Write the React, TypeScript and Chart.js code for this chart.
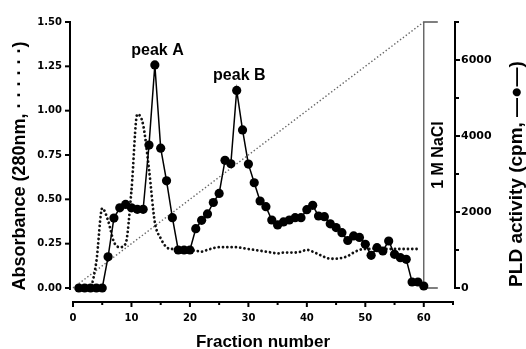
import React, { useEffect, useRef } from "react";
import { Chart, registerables } from "chart.js";

Chart.register(...registerables);

// ---- data ----
const fractions = [
  1, 2, 3, 4, 5, 6, 7, 8, 9, 10, 11, 12, 13, 14, 15, 16, 17, 18, 19, 20,
  21, 22, 23, 24, 25, 26, 27, 28, 29, 30, 31, 32, 33, 34, 35, 36, 37, 38, 39, 40,
  41, 42, 43, 44, 45, 46, 47, 48, 49, 50, 51, 52, 53, 54, 55, 56, 57, 58, 59, 60,
];
const pldActivity = [
  0, 0, 0, 0, 0, 820, 1840, 2110, 2200, 2110, 2070, 2070, 3760, 5870, 3680, 2820, 1850, 1000, 1000, 1000,
  1560, 1780, 1950, 2250, 2490, 3360, 3270, 5200, 4160, 3260, 2770, 2290, 2140, 1790, 1660, 1740, 1790, 1850, 1850, 2060,
  2175, 1895, 1877, 1690, 1590, 1455, 1250, 1370, 1330, 1150, 860, 1060, 974, 1237, 887, 797, 755, 158, 158, 53,
];
const absFractions = [
  1, 2, 3, 4, 5, 6, 7, 8, 9, 10, 11, 12, 13, 14, 15, 16, 17, 18, 19, 20,
  21, 22, 23, 24, 25, 26, 27, 28, 29, 30, 31, 32, 33, 34, 35, 36, 37, 38, 39, 40,
  41, 42, 43, 44, 45, 46, 47, 48, 49, 50, 51, 52, 53, 54, 55, 56, 57, 58, 59,
];
const absorbance = [
  0, 0, 0.01, 0.15, 0.45, 0.38, 0.26, 0.23, 0.25, 0.55, 0.98, 0.92, 0.67, 0.37, 0.28, 0.23, 0.22, 0.22, 0.22, 0.215,
  0.21, 0.205, 0.215, 0.225, 0.23, 0.23, 0.23, 0.23, 0.225, 0.22, 0.215, 0.21, 0.205, 0.2, 0.195, 0.2, 0.2, 0.2, 0.205, 0.215,
  0.205, 0.19, 0.175, 0.165, 0.165, 0.17, 0.18, 0.2, 0.215, 0.22, 0.22, 0.225, 0.22, 0.22, 0.22, 0.22, 0.22, 0.22, 0.22,
];
const gradientFractions = [0, 60];
const gradientLevel = [0, 1.5];
const saltBracketFractions = [62.4, 60, 60, 62.4];
const saltBracketLevel = [1.5, 1.5, 0, 0];

const xTicks = [0, 10, 20, 30, 40, 50, 60];
const xMinorTicks = [5, 15, 25, 35, 45, 55, 65];
const absTicks = [0, 0.25, 0.5, 0.75, 1.0, 1.25, 1.5];
const pldTicks = [0, 2000, 4000, 6000];
const pldMinorTicks = [1000, 3000, 5000, 7000];
const peakLabels = ["peak A", "peak B"];
const peakFractions = [14, 28];
const peakValues = [5870, 5200];

const xTitle = "Fraction number";
const leftTitle = "Absorbance (280nm, · · · · · ·)";
const rightTitle = "PLD activity (cpm, —●—)";
const saltLabel = "1 M NaCl";

const SANS = '"Liberation Sans", Arial, sans-serif';
const TICKFONT = '"DejaVu Sans", sans-serif';

const axesPlugin = {
  id: "customAxes",
  beforeDraw(chart: any) {
    const { ctx, width, height } = chart;
    ctx.save();
    ctx.fillStyle = "#fff";
    ctx.fillRect(0, 0, width, height);
    ctx.restore();
  },
  afterDraw(chart: any) {
    const { ctx, chartArea, scales } = chart;
    const xs = scales.x;
    const ya = scales.y;
    const yp = scales.y2;
    ctx.save();
    ctx.strokeStyle = "#000";
    ctx.fillStyle = "#000";
    ctx.lineCap = "butt";

    const line = (x1: number, y1: number, x2: number, y2: number, w: number) => {
      ctx.lineWidth = w;
      ctx.beginPath();
      ctx.moveTo(x1, y1);
      ctx.lineTo(x2, y2);
      ctx.stroke();
    };

    // left axis
    const lx = chartArea.left - 3;
    line(lx, ya.getPixelForValue(1.5) - 1, lx, ya.getPixelForValue(0) + 2, 2);
    ctx.font = `bold 10px ${TICKFONT}`;
    ctx.textAlign = "right";
    ctx.textBaseline = "middle";
    for (const v of absTicks) {
      const py = ya.getPixelForValue(v);
      line(lx - 5, py, lx, py, 2);
      ctx.fillText(v.toFixed(2), lx - 8, py);
    }

    // bottom axis
    const by = chartArea.bottom + 14;
    line(xs.getPixelForValue(0) - 1, by, xs.getPixelForValue(65) + 1, by, 2);
    ctx.textAlign = "center";
    ctx.textBaseline = "middle";
    for (const v of xTicks) {
      const px = xs.getPixelForValue(v);
      line(px, by, px, by + 5, 2);
      ctx.fillText(String(v), px, by + 16);
    }
    for (const v of xMinorTicks) {
      const px = xs.getPixelForValue(v);
      line(px, by, px, by + 3, 2);
    }

    // right axis
    const rx = chartArea.right + 2;
    line(rx, yp.getPixelForValue(7000) - 1, rx, yp.getPixelForValue(0) + 1, 2);
    ctx.font = `bold 11px ${TICKFONT}`;
    ctx.textAlign = "left";
    for (const v of pldTicks) {
      const py = yp.getPixelForValue(v);
      line(rx, py, rx + 5, py, 2);
      ctx.fillText(String(v), rx + 6, py);
    }
    for (const v of pldMinorTicks) {
      const py = yp.getPixelForValue(v);
      line(rx, py, rx + 4, py, 2);
    }

    // x title
    ctx.font = `bold 17px ${SANS}`;
    ctx.textAlign = "center";
    ctx.textBaseline = "alphabetic";
    ctx.fillText(xTitle, (chartArea.left + chartArea.right) / 2, chartArea.bottom + 59);

    // left title
    ctx.save();
    ctx.translate(25, 166);
    ctx.rotate(-Math.PI / 2);
    ctx.font = `bold 18px ${SANS}`;
    ctx.fillText(leftTitle, 0, 0);
    ctx.restore();

    // right title
    ctx.save();
    ctx.translate(522, 174);
    ctx.rotate(-Math.PI / 2);
    ctx.font = `bold 19px ${SANS}`;
    ctx.fillText(rightTitle, 0, 0);
    ctx.restore();

    // salt label
    ctx.save();
    ctx.translate(xs.getPixelForValue(60) + 19, (chartArea.top + chartArea.bottom) / 2);
    ctx.rotate(-Math.PI / 2);
    ctx.font = `bold 16px ${SANS}`;
    ctx.fillText(saltLabel, 0, 0);
    ctx.restore();

    // peak labels
    ctx.font = `bold 16px ${SANS}`;
    peakLabels.forEach((lab, i) => {
      const px = xs.getPixelForValue(peakFractions[i] + 0.45);
      const py = yp.getPixelForValue(peakValues[i]) - 10;
      ctx.fillText(lab, px, py);
    });

    ctx.restore();
  },
};

export default function App() {
  const ref = useRef<HTMLCanvasElement | null>(null);

  useEffect(() => {
    if (!ref.current) return;
    const chart = new Chart(ref.current, {
      type: "line",
      data: {
        datasets: [
          {
            label: "PLD activity",
            data: fractions.map((f, i) => ({ x: f, y: pldActivity[i] })),
            yAxisID: "y2",
            borderColor: "#000",
            borderWidth: 1.5,
            pointRadius: 4.6,
            pointBackgroundColor: "#000",
            pointBorderWidth: 0,
            tension: 0,
            clip: false,
          },
          {
            label: "Absorbance",
            data: absFractions.map((f, i) => ({ x: f, y: absorbance[i] })),
            yAxisID: "y",
            borderColor: "#111",
            borderWidth: 2.8,
            borderDash: [0.01, 4.3],
            borderCapStyle: "round",
            cubicInterpolationMode: "monotone",
            pointRadius: 0,
            clip: false,
          },
          {
            label: "NaCl gradient",
            data: gradientFractions.map((f, i) => ({ x: f, y: gradientLevel[i] })),
            yAxisID: "y",
            borderColor: "#666",
            borderWidth: 1.4,
            borderDash: [1.4, 2.2],
            pointRadius: 0,
            clip: false,
          },
          {
            label: "NaCl bracket",
            data: saltBracketFractions.map((f, i) => ({ x: f, y: saltBracketLevel[i] })),
            yAxisID: "y",
            borderColor: "#555",
            borderWidth: 1.3,
            pointRadius: 0,
            clip: false,
          },
        ],
      },
      options: {
        animation: false,
        responsive: false,
        devicePixelRatio: 1,
        layout: { padding: { left: 73, right: 73, top: 22, bottom: 61 } },
        scales: {
          x: { type: "linear", min: 0, max: 65, display: false },
          y: { type: "linear", min: 0, max: 1.5, display: false, position: "left" },
          y2: { type: "linear", min: 0, max: 7000, display: false, position: "right" },
        },
        plugins: {
          legend: { display: false },
          tooltip: { enabled: false },
        },
      },
      plugins: [axesPlugin],
    } as any);
    return () => chart.destroy();
  }, []);

  return (
    <div style={{ position: "fixed", left: 0, top: 0, width: 526, height: 349, background: "#fff" }}>
      <canvas ref={ref} width={526} height={349} style={{ display: "block" }} />
    </div>
  );
}
